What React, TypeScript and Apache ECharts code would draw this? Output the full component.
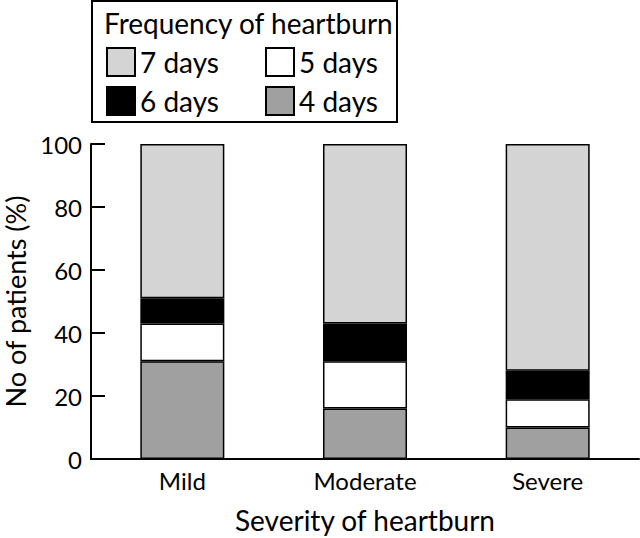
import React, { useEffect, useRef } from "react";
import * as echarts from "echarts";

const categories = ["Mild", "Moderate", "Severe"];
const days4 = [31, 16, 10];
const days5 = [12, 15, 9];
const days6 = [8, 12, 9];
const days7 = [49, 57, 72];
const yTicks = [0, 20, 40, 60, 80, 100];

const FONT = "Lato";

export default function App() {
  const ref = useRef<HTMLDivElement>(null);
  useEffect(() => {
    const chart = echarts.init(ref.current!, null, { renderer: "svg" });
    const border = { borderColor: "#000", borderWidth: 1.5 };
    const mk = (name: string, data: number[], color: string) => ({
      name,
      type: "bar",
      stack: "s",
      data,
      barWidth: "46%",
      itemStyle: { color, ...border },
    });
    const legendBase = {
      orient: "vertical",
      top: 47,
      padding: 0,
      itemWidth: 28,
      itemHeight: 28,
      itemGap: 9,
      icon: "rect",
      textStyle: { fontFamily: FONT, fontSize: 28, color: "#000" },
      selectedMode: false,
    };
    chart.setOption({
      animation: false,
      textStyle: { fontFamily: FONT, color: "#000" },
      grid: { left: 91, right: 1, top: 144, bottom: 79, outerBoundsMode: "none" },
      legend: [
        { ...legendBase, data: ["7 days", "6 days"], left: 106 },
        { ...legendBase, data: ["5 days", "4 days"], left: 265 },
      ],
      graphic: [
        {
          type: "rect",
          shape: { x: 92, y: 1, width: 305, height: 121 },
          style: { fill: "none", stroke: "#000", lineWidth: 2 },
          z: 10,
        },
        {
          type: "text",
          x: 104,
          y: 23,
          style: {
            text: "Frequency of heartburn",
            font: `28px ${FONT}`,
            fill: "#000",
            verticalAlign: "middle",
          },
          z: 10,
        },
      ],
      xAxis: {
        type: "category",
        data: categories,
        name: "Severity of heartburn",
        nameLocation: "middle",
        nameGap: 47,
        nameTextStyle: { fontSize: 28, verticalAlign: "top", color: "#000" },
        axisLine: { lineStyle: { color: "#000", width: 2 } },
        axisTick: { inside: true, length: 15, lineStyle: { color: "#000", width: 2 } },
        axisLabel: { fontSize: 24, color: "#000", margin: 9 },
      },
      yAxis: {
        type: "value",
        min: 0,
        max: 100,
        interval: 20,
        name: "No of patients (%)",
        nameLocation: "middle",
        nameGap: 57,
        nameTextStyle: { fontSize: 27, color: "#000" },
        axisLine: { show: true, lineStyle: { color: "#000", width: 2 } },
        axisTick: { show: true, inside: true, length: 14, lineStyle: { color: "#000", width: 2 } },
        axisLabel: {
          fontSize: 24,
          color: "#000",
          margin: 9,
          formatter: (v: number) => (yTicks.includes(v) ? String(v) : ""),
        },
        splitLine: { show: false },
      },
      series: [
        mk("4 days", days4, "#a0a0a0"),
        mk("5 days", days5, "#ffffff"),
        mk("6 days", days6, "#000000"),
        mk("7 days", days7, "#d4d4d4"),
      ],
    });
    return () => chart.dispose();
  }, []);
  return (
    <div style={{ position: "absolute", left: 0, top: 0 }}>
      <div ref={ref} style={{ width: 640, height: 538 }} />
    </div>
  );
}
